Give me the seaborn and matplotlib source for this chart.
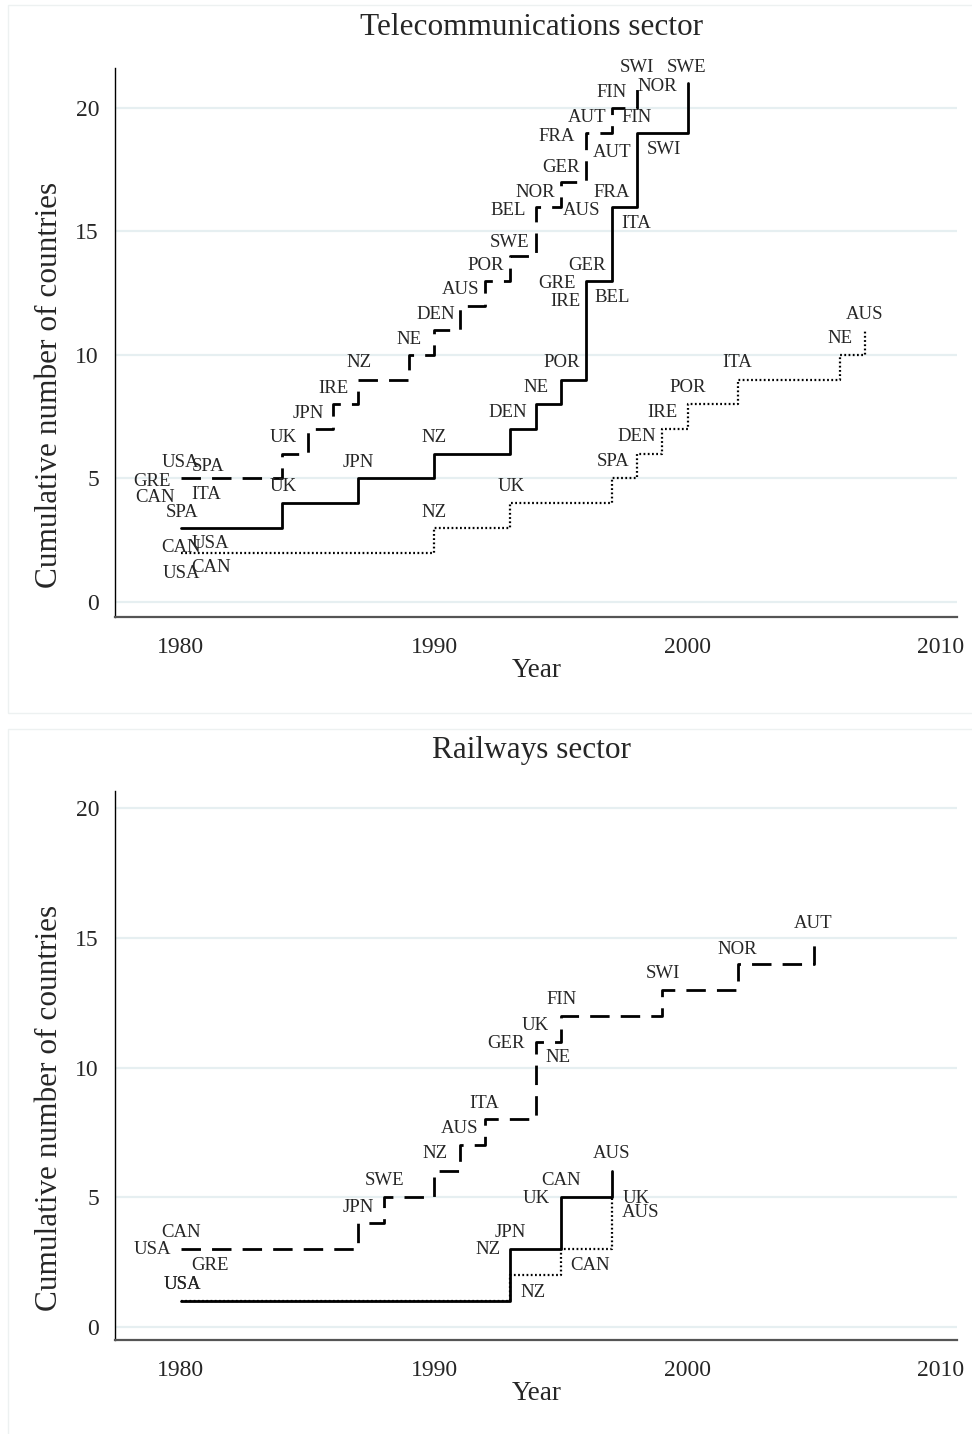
import matplotlib
matplotlib.use("Agg")
import matplotlib.pyplot as plt
import seaborn as sns
import pandas as pd
from matplotlib.patches import Rectangle

# ---------------- data: Telecommunications sector ----------------
tel_dash_years = [1980, 1984, 1985, 1986, 1987, 1989, 1990, 1991, 1992, 1993, 1994, 1995, 1996, 1997, 1998]
tel_dash_count = [5, 6, 7, 8, 9, 10, 11, 12, 13, 14, 16, 17, 19, 20, 21]
tel_solid_years = [1980, 1984, 1987, 1990, 1993, 1994, 1995, 1996, 1997, 1998, 2000]
tel_solid_count = [3, 4, 5, 6, 7, 8, 9, 13, 16, 19, 21]
tel_dot_years = [1980, 1990, 1993, 1997, 1998, 1999, 2000, 2002, 2006, 2007]
tel_dot_count = [2, 3, 4, 5, 6, 7, 8, 9, 10, 11]

tel_label_text = ["USA", "SPA", "GRE", "CAN", "ITA", "SPA", "CAN", "USA", "USA", "CAN",
                  "UK", "UK", "JPN", "IRE", "NZ", "NE", "DEN", "AUS", "POR", "SWE",
                  "BEL", "NOR", "AUS", "GER", "FRA", "AUT", "FIN", "SWI", "NOR", "SWE",
                  "FIN", "AUT", "SWI", "FRA", "ITA", "GER", "GRE", "IRE", "BEL", "POR",
                  "NE", "DEN", "NZ", "JPN", "UK", "NZ", "SPA", "DEN", "IRE", "POR",
                  "ITA", "NE", "AUS"]
tel_label_x = [1979.96, 1981.07, 1978.86, 1978.97, 1980.99, 1980.04, 1980.0, 1981.18, 1980.0, 1981.18,
               1984.02, 1984.02, 1985.01, 1986.04, 1987.02, 1988.99, 1990.06, 1991.05, 1992.03, 1992.98,
               1992.90, 1994.0, 1995.82, 1994.99, 1994.83, 1996.02, 1997.0, 1997.99, 1998.82, 1999.96,
               1997.99, 1997.0, 1999.05, 1997.0, 1997.95, 1996.02, 1994.83, 1995.19, 1997.04, 1995.03,
               1994.0, 1992.90, 1989.98, 1987.02, 1993.02, 1989.98, 1997.04, 1997.99, 1999.01, 2000.0,
               2001.97, 2006.0, 2006.98]
tel_label_y = [5.63, 5.47, 4.86, 4.21, 4.37, 3.64, 2.19, 2.35, 1.17, 1.38,
               4.66, 6.64, 7.65, 8.66, 9.68, 10.61, 11.62, 12.67, 13.64, 14.57,
               15.83, 16.56, 15.83, 17.61, 18.83, 19.60, 20.61, 21.62, 20.89, 21.62,
               19.60, 18.18, 18.30, 16.56, 15.34, 13.64, 12.91, 12.15, 12.31, 9.68,
               8.70, 7.69, 6.64, 5.63, 4.66, 3.64, 5.67, 6.68, 7.69, 8.70,
               9.68, 10.65, 11.62]

# ---------------- data: Railways sector ----------------
rail_dash_years = [1980, 1987, 1988, 1990, 1991, 1992, 1994, 1995, 1999, 2002, 2005]
rail_dash_count = [3, 4, 5, 6, 7, 8, 11, 12, 13, 14, 15]
rail_solid_years = [1980, 1993, 1995, 1997]
rail_solid_count = [1, 3, 5, 6]
rail_dot_years = [1980, 1993, 1995, 1997]
rail_dot_count = [1, 2, 3, 5]

rail_label_text = ["USA", "CAN", "GRE", "JPN", "SWE", "NZ", "AUS", "ITA", "GER", "UK",
                   "NE", "FIN", "SWI", "NOR", "AUT",
                   "USA", "NZ", "JPN", "UK", "CAN", "AUS",
                   "USA", "NZ", "CAN", "UK", "AUS"]
rail_label_x = [1978.86, 1980.0, 1981.14, 1987.02, 1988.05, 1990.02, 1991.01, 1991.99, 1992.82, 1994.0,
                1994.87, 1995.03, 1999.01, 2001.97, 2004.97,
                1980.04, 1992.11, 1993.02, 1994.04, 1994.99, 1997.0,
                1980.04, 1993.89, 1996.13, 1997.95, 1998.15]
rail_label_y = [2.97, 3.66, 2.39, 4.62, 5.66, 6.67, 7.67, 8.63, 10.94, 11.64,
                10.37, 12.64, 13.64, 14.57, 15.57,
                1.62, 2.97, 3.66, 4.97, 5.66, 6.67,
                1.62, 1.35, 2.39, 4.97, 4.43]

x_ticks = [1980, 1990, 2000, 2010]
y_ticks = [0, 5, 10, 15, 20]

# ---------------- style ----------------
sns.set_style("white")
plt.rcParams["font.family"] = ["Liberation Serif", "DejaVu Serif"]

GRID = "#e6eff1"
DASH = (0, (7, 4))
DOT = (0, (0.8, 1.1))

fig = plt.figure(figsize=(9.72, 14.34), dpi=100)

# panel frames
fig.patches.append(Rectangle((8 / 972, 1 - 713 / 1434), 1.0, (713 - 5) / 1434,
                             transform=fig.transFigure, fill=False,
                             edgecolor="#edf1f1", lw=1.0, zorder=0))
fig.patches.append(Rectangle((8 / 972, -0.05), 1.0, 0.05 + 1 - 729 / 1434,
                             transform=fig.transFigure, fill=False,
                             edgecolor="#edf1f1", lw=1.0, zorder=0))

ax_top = fig.add_axes([115 / 972, 1 - 617 / 1434, (957 - 115) / 972, 549 / 1434])
ax_bot = fig.add_axes([115 / 972, 1 - 1340 / 1434, (957 - 115) / 972, 549 / 1434])


def draw_series(ax, years, counts, ls, lw):
    df = pd.DataFrame({"Year": years, "Count": counts})
    sns.lineplot(data=df, x="Year", y="Count", ax=ax, color="black",
                 drawstyle="steps-post", linestyle=ls, linewidth=lw,
                 estimator=None, legend=False, zorder=3)


def style_axes(ax, title, ylim, texts, xs, ys):
    ax.set_xlim(1977.4, 2010.63)
    ax.set_ylim(*ylim)
    ax.set_xticks(x_ticks)
    ax.set_yticks(y_ticks)
    ax.set_xticklabels([str(t) for t in x_ticks])
    ax.set_yticklabels([str(t) for t in y_ticks])
    ax.yaxis.grid(True, color=GRID, lw=1.6)
    ax.xaxis.grid(False)
    ax.set_axisbelow(True)
    for s in ["top", "right"]:
        ax.spines[s].set_visible(False)
    ax.spines["left"].set_color("black")
    ax.spines["left"].set_linewidth(1.0)
    ax.spines["bottom"].set_color("#555555")
    ax.spines["bottom"].set_linewidth(1.6)
    ax.tick_params(axis="both", direction="out", length=7.5, width=1.0,
                   color="#444444", labelsize=17, pad=4)
    ax.tick_params(axis="x", pad=7)
    ax.set_xlabel("Year", fontsize=19.5)
    ax.set_ylabel("Cumulative number of countries", fontsize=22.5)
    ax.xaxis.set_label_coords(0.501, -0.075)
    ax.yaxis.set_label_coords(-0.061, 0.4226)
    ax.text(0.495, 1.073, title, transform=ax.transAxes, ha="center",
            va="center", fontsize=22.5)
    for t, x, y in zip(texts, xs, ys):
        ax.text(x, y, t, ha="center", va="center", fontsize=13.5, zorder=4)
    ax.patch.set_alpha(0)


draw_series(ax_top, tel_dash_years, tel_dash_count, DASH, 2.0)
draw_series(ax_top, tel_solid_years, tel_solid_count, "-", 2.0)
draw_series(ax_top, tel_dot_years, tel_dot_count, DOT, 1.6)
style_axes(ax_top, "Telecommunications sector", (-0.61, 21.62),
           tel_label_text, tel_label_x, tel_label_y)

draw_series(ax_bot, rail_dash_years, rail_dash_count, DASH, 2.0)
draw_series(ax_bot, rail_solid_years, rail_solid_count, "-", 2.0)
draw_series(ax_bot, rail_dot_years, rail_dot_count, DOT, 1.6)
style_axes(ax_bot, "Railways sector", (-0.5, 20.66),
           rail_label_text, rail_label_x, rail_label_y)

fig.savefig("out.png", dpi=100)
